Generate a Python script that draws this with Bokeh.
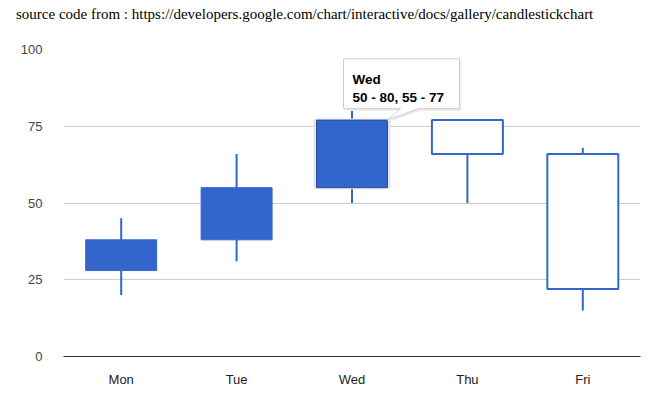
from bokeh.plotting import figure
from bokeh.models import Div, FactorRange, FixedTicker, ColumnDataSource
from bokeh.layouts import column
from bokeh.core.properties import value
from bokeh.embed import file_html
from bokeh.resources import INLINE

# data (Google candlestick example): low, open, close, high
days = ["Mon", "Tue", "Wed", "Thu", "Fri"]
low = [20, 31, 50, 77, 68]
open_ = [28, 38, 55, 77, 66]
close = [38, 55, 77, 66, 22]
high = [45, 66, 80, 50, 15]
y_ticks = [0, 25, 50, 75, 100]
title_text = "source code from : https://developers.google.com/chart/interactive/docs/gallery/candlestickchart"
tip_title = "Wed"
tip_body = "50 - 80, 55 - 77"

BLUE = "#3366cc"

ML, MR, MT, MB = 63, 3, 19, 32
frame_w, frame_h = 577, 308
FIG_W = ML + frame_w + MR
FIG_H = MT + frame_h + MB

p = figure(x_range=FactorRange(*days, range_padding=0), y_range=(0, 100),
           width=FIG_W, height=FIG_H, output_backend="svg", toolbar_location=None,
           min_border_left=ML, min_border_right=MR, min_border_top=MT, min_border_bottom=MB,
           margin=(0, 0, 0, 0))
p.outline_line_color = None
p.xgrid.grid_line_color = None
p.ygrid.grid_line_color = "#cccccc"
p.ygrid.ticker = FixedTicker(ticks=y_ticks)

p.yaxis.ticker = FixedTicker(ticks=y_ticks)
p.yaxis.axis_line_color = None
p.yaxis.major_tick_line_color = None
p.yaxis.minor_tick_line_color = None
p.yaxis.major_label_standoff = 15
p.yaxis.major_label_text_font = "Liberation Sans"
p.yaxis.major_label_text_font_size = "13px"
p.yaxis.major_label_text_color = "#444444"

p.xaxis.axis_line_color = "#333333"
p.xaxis.axis_line_width = 1
p.xaxis.major_tick_line_color = None
p.xaxis.minor_tick_line_color = None
p.xaxis.major_label_standoff = 9
p.xaxis.major_label_text_font = "Liberation Sans"
p.xaxis.major_label_text_font_size = "13px"
p.xaxis.major_label_text_color = "#222222"

seg_lo = [min(a, b) for a, b in zip(low, high)]
seg_hi = [max(a, b) for a, b in zip(low, high)]
box_lo = [min(a, b) for a, b in zip(open_, close)]
box_hi = [max(a, b) for a, b in zip(open_, close)]
rising = [c > o for o, c in zip(open_, close)]

# whiskers
p.segment(x0=days, y0=seg_lo, x1=days, y1=seg_hi, line_color=BLUE, line_width=2)

BW = 0.615
wi = days.index("Wed")
up = [i for i, r in enumerate(rising) if r and i != wi]
dn = [i for i, r in enumerate(rising) if not r]
up_src = ColumnDataSource(dict(x=[days[i] for i in up], b=[box_lo[i] for i in up], t=[box_hi[i] for i in up]))
dn_src = ColumnDataSource(dict(x=[days[i] for i in dn], b=[box_lo[i] for i in dn], t=[box_hi[i] for i in dn]))
p.vbar(x="x", bottom="b", top="t", width=BW, source=up_src, fill_color=BLUE, line_color=BLUE, line_width=1)
p.vbar(x="x", bottom="b", top="t", width=BW, source=dn_src, fill_color="white", line_color=BLUE, line_width=2)

# hovered candle (Wed)
p.vbar(x=[days[wi]], bottom=[box_lo[wi]], top=[box_hi[wi]], width=BW + 0.03,
       fill_color=None, line_color="#e6e6e6", line_width=3)
p.vbar(x=[days[wi]], bottom=[box_lo[wi]], top=[box_hi[wi]], width=BW,
       fill_color=BLUE, line_color="#2a4f9e", line_width=1)

# tooltip, anchored to the Wed box top-right corner
px_x = frame_w / len(days)
px_y = frame_h / 100.0
ax = wi + 0.5 + BW / 2
ay = box_hi[wi]
def X(dx):
    return ax + dx / px_x
def Y(dy):
    return ay + dy / px_y
L, R, T, B = -44, 72, 61.5, 11.5
tb0, tb1 = 13, 31
shadow = 2
p.patch([X(L + shadow), X(R + shadow), X(R + shadow), X(tb1 + shadow), X(0 + shadow), X(tb0 + shadow), X(L + shadow)],
        [Y(T - shadow), Y(T - shadow), Y(B - shadow), Y(B - shadow), Y(-shadow), Y(B - shadow), Y(B - shadow)],
        fill_color="#000000", fill_alpha=0.08, line_color=None)
p.patch([X(L), X(R), X(R), X(tb1), X(0), X(tb0), X(L)],
        [Y(T), Y(T), Y(B), Y(B), Y(0), Y(B), Y(B)],
        fill_color="white", line_color="#cccccc", line_width=1)
p.text(x=[X(L + 9), X(L + 9)], y=[Y(40.8), Y(22.8)], text=[tip_title, tip_body],
       text_font=value("Liberation Sans"), text_font_style="bold", text_font_size="13.5px",
       text_color="#000000", text_baseline="alphabetic", text_align="left")

div = Div(text=title_text, width=FIG_W, height=30, margin=(0, 0, 0, 0),
          styles={"font-family": "'Liberation Serif', 'Times New Roman', serif",
                  "font-size": "15px", "color": "#000", "padding-left": "16px",
                  "padding-top": "4px", "white-space": "nowrap"})

layout = column(div, p, spacing=0)
open("out.html", "w").write(file_html(layout, INLINE))
